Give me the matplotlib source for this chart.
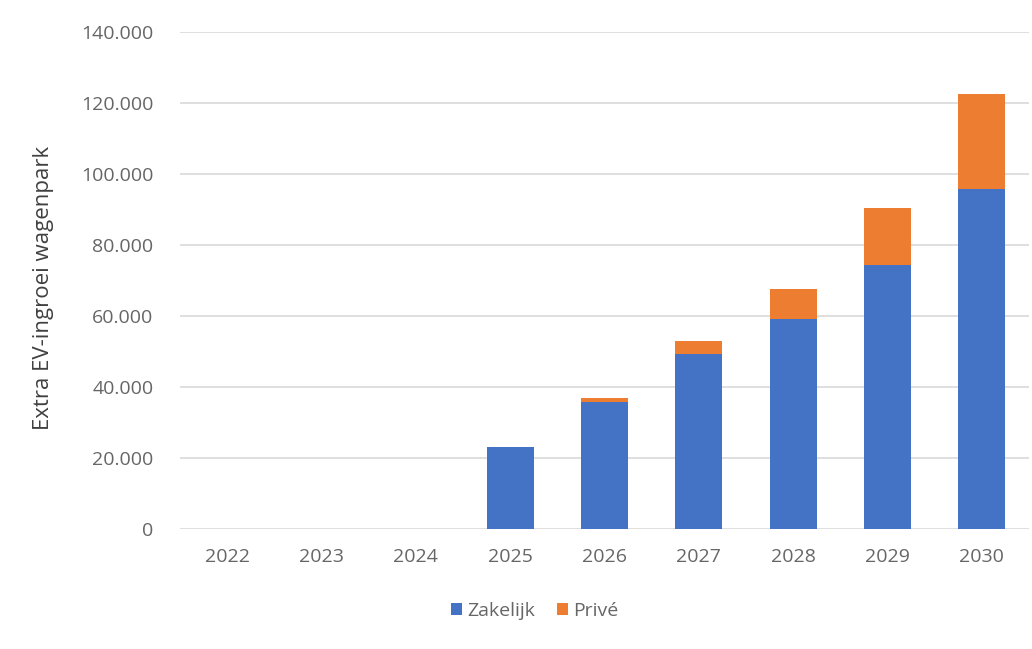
import matplotlib
matplotlib.use('Agg')
import matplotlib.pyplot as plt
import numpy as np
from matplotlib.ticker import FuncFormatter, MultipleLocator

# data
years = ['2022', '2023', '2024', '2025', '2026', '2027', '2028', '2029', '2030']
zakelijk = [0, 0, 0, 23000, 35800, 49300, 59000, 74300, 95800]
prive = [0, 0, 0, 0, 1000, 3600, 8700, 16200, 26800]

blue = '#4472C4'
orange = '#ED7D31'
txt = '#666666'

plt.rcParams['font.family'] = ['Open Sans', 'DejaVu Sans']

fig = plt.figure(figsize=(10.32, 6.49), dpi=100)
ax = fig.add_axes([180 / 1032, 0.185, 849 / 1032, 0.766])

x = np.arange(len(years))
ax.bar(x, zakelijk, width=0.5, color=blue, label='Zakelijk', zorder=3)
ax.bar(x, prive, width=0.5, bottom=zakelijk, color=orange, label='Privé', zorder=3)

ax.set_xlim(-0.5, len(years) - 0.5)
ax.set_ylim(0, 140000)
ax.yaxis.set_major_locator(MultipleLocator(20000))
ax.yaxis.set_major_formatter(FuncFormatter(lambda v, p: f'{int(v):,}'.replace(',', '.')))
ax.set_xticks(x)
ax.set_xticklabels(years)
ax.grid(axis='y', color='#d9d9d9', linewidth=1.2, zorder=0)
for s in ax.spines.values():
    s.set_visible(False)
ax.tick_params(axis='y', length=0, labelsize=14, colors=txt, pad=19)
ax.tick_params(axis='x', length=0, labelsize=14, colors=txt, pad=14)

ax.set_ylabel('Extra EV-ingroei wagenpark', fontsize=16, color='#404040')
ax.yaxis.set_label_coords(-0.148, 0.485)

ax.legend(loc='center', bbox_to_anchor=(0.418, -0.165), ncol=2, frameon=False,
          fontsize=14, handlelength=0.55, handleheight=0.55, handletextpad=0.3,
          columnspacing=1.1, labelcolor=txt)

fig.savefig('out.png', dpi=100, facecolor='white')
